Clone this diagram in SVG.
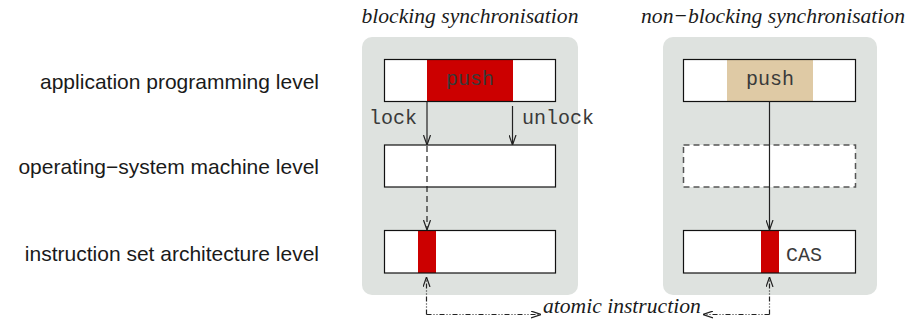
<svg xmlns="http://www.w3.org/2000/svg" width="919" height="322" viewBox="0 0 919 322">
<style>
.lvl{font-family:"Liberation Sans",Arial,sans-serif;font-size:21px;fill:#1a1a1a;text-anchor:end}
.ttl{font-family:"Liberation Serif","Times New Roman",serif;font-style:italic;font-size:21.6px;fill:#1a1a1a}
.mono{font-family:"Liberation Mono","Courier New",monospace;font-size:20px;fill:#3a3a3a}
.panel{fill:#dee2df}
.box{fill:#fff}
.frame{fill:none;stroke:#111;stroke-width:1.2}
.dframe{fill:none;stroke:#555;stroke-width:1.5;stroke-dasharray:6 4}
.red{fill:#cc0000}
.tan{fill:#dfcaa5}
.ln{fill:none;stroke:#222;stroke-width:1.2}
.dash{stroke-dasharray:6 4}
.dd{stroke-dasharray:5 2 1 2 1 2}
</style>
<defs>
<marker id="v" viewBox="0 0 10 8" refX="10" refY="4" markerWidth="10" markerHeight="8" markerUnits="userSpaceOnUse" orient="auto">
<path d="M0,0.5 L10,4 L0,7.5" fill="none" stroke="#222" stroke-width="1.2"/>
</marker>
</defs>

<g id="level-labels">
<text class="lvl" x="319" y="89">application programming level</text>
<text class="lvl" x="319" y="174">operating−system machine level</text>
<text class="lvl" x="319" y="261">instruction set architecture level</text>
</g>

<g id="blocking">
<rect class="panel" x="362" y="37" width="216" height="258" rx="10"/>
<text class="ttl" x="470" y="23" text-anchor="middle">blocking synchronisation</text>
<g id="b-app">
<rect class="box" x="384.5" y="59.5" width="171" height="42"/>
<rect class="red" x="427" y="59.5" width="86" height="42"/>
<rect class="frame" x="384.5" y="59.5" width="171" height="42"/>
<text class="mono" x="470" y="85" text-anchor="middle">push</text>
</g>
<g id="b-os">
<rect class="box" x="384.5" y="145" width="171" height="42"/>
<rect class="frame" x="384.5" y="145" width="171" height="42"/>
</g>
<g id="b-isa">
<rect class="box" x="384.5" y="230.5" width="171" height="42.5"/>
<rect class="red" x="418" y="230.5" width="18" height="42.5"/>
<rect class="frame" x="384.5" y="230.5" width="171" height="42.5"/>
</g>
<text class="mono" x="369" y="124">lock</text>
<text class="mono" x="522" y="124">unlock</text>
</g>

<g id="nonblocking">
<rect class="panel" x="663" y="37" width="214" height="258" rx="10"/>
<text class="ttl" x="773" y="23" text-anchor="middle">non−blocking synchronisation</text>
<g id="n-app">
<rect class="box" x="683.5" y="59.5" width="172" height="42"/>
<rect class="tan" x="727" y="59.5" width="86" height="42"/>
<rect class="frame" x="683.5" y="59.5" width="172" height="42"/>
<text class="mono" x="770" y="85" text-anchor="middle">push</text>
</g>
<g id="n-os">
<rect class="box" x="683.5" y="145" width="172" height="42"/>
<rect class="dframe" x="683.5" y="145" width="172" height="42"/>
</g>
<g id="n-isa">
<rect class="box" x="683.5" y="230.5" width="172" height="42.5"/>
<rect class="red" x="761" y="230.5" width="18" height="42.5"/>
<rect class="frame" x="683.5" y="230.5" width="172" height="42.5"/>
<text class="mono" x="786" y="261">CAS</text>
</g>
</g>

<g id="connectors">
<path class="ln" d="M427,101.5 V145" marker-end="url(#v)"/>
<path class="ln dash" d="M427,146 V230" marker-end="url(#v)"/>
<path class="ln" d="M512.5,106 V145" marker-end="url(#v)"/>
<path class="ln" d="M769.5,101.5 V230" marker-end="url(#v)"/>
<path class="ln dd" d="M426.5,314.5 V277" marker-end="url(#v)"/>
<path class="ln dd" d="M426.5,314.5 H541" marker-end="url(#v)"/>
<path class="ln dd" d="M769.5,314.5 V277" marker-end="url(#v)"/>
<path class="ln dd" d="M769.5,314.5 H703" marker-end="url(#v)"/>
<text class="ttl" x="543" y="313" font-size="20.6">atomic instruction</text>
</g>
</svg>
